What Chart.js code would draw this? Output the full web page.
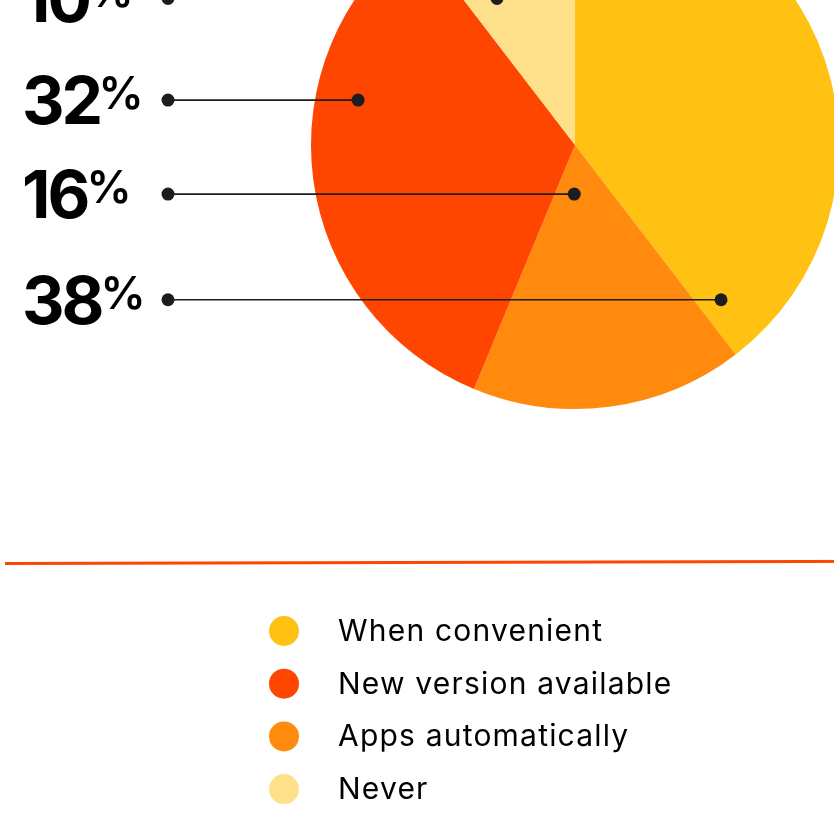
<!DOCTYPE html>
<html>
<head>
<meta charset="utf-8">
<title>App update habits</title>
<script src="https://cdn.jsdelivr.net/npm/chart.js@4.4.1/dist/chart.umd.min.js"></script>
<style>
  html, body { margin: 0; padding: 0; background: #fff; overflow: hidden; }
  body { width: 834px; height: 829px; position: relative; }
  #pie { position: absolute; left: 0; top: -150px; }
</style>
</head>
<body>
<canvas id="pie" width="900" height="979"></canvas>
<script>
// Survey answers, in legend order
const categories = ['When convenient', 'New version available', 'Apps automatically', 'Never'];
const shares = [38, 32, 16, 10];
// slices go clockwise from 12 o'clock in this order
const sliceOrder = [0, 2, 1, 3];
const colors = ['#FFC112', '#FF4600', '#FF8A0E', '#FFE08A'];

// where each callout dot sits inside its slice (fraction of sweep, fraction of radius)
const anchors = [
  { t: 0.959, r: 0.806 },
  { t: 0.66, r: 0.839 },
  { t: 0.64, r: 0.186 },
  { t: 0.253, r: 0.629 }
];

const SHIFT = 150;        // canvas sits this far above the page
const INK = '#1d1d1d';

const calloutPlugin = {
  id: 'callouts',
  afterDatasetsDraw(chart) {
    const ctx = chart.ctx;
    const arcs = chart.getDatasetMeta(0).data;
    ctx.save();
    arcs.forEach((arc, k) => {
      const i = sliceOrder[k];
      const p = arc.getProps(['x', 'y', 'startAngle', 'endAngle', 'outerRadius'], true);
      const a = p.startAngle + anchors[i].t * (p.endAngle - p.startAngle);
      const px = p.x + Math.cos(a) * p.outerRadius * anchors[i].r;
      const py = p.y + Math.sin(a) * p.outerRadius * anchors[i].r;
      const lx = 168;

      // leader line with end dots
      ctx.strokeStyle = INK;
      ctx.lineWidth = 1.6;
      ctx.beginPath();
      ctx.moveTo(lx, py);
      ctx.lineTo(px, py);
      ctx.stroke();
      ctx.fillStyle = INK;
      [lx, px].forEach(cx => {
        ctx.beginPath();
        ctx.arc(cx, py, 6.5, 0, Math.PI * 2);
        ctx.fill();
      });

      // big value, small raised percent sign
      const num = String(shares[i]);
      const base = py + 24;
      ctx.fillStyle = '#000';
      ctx.textBaseline = 'alphabetic';
      ctx.textAlign = 'left';
      ctx.font = '700 66px Inter';
      ctx.letterSpacing = '-3px';
      ctx.fillText(num, 22, base);
      const nm = ctx.measureText(num);
      ctx.letterSpacing = '0px';
      ctx.font = '600 45px Inter';
      const pm = ctx.measureText('%');
      const top = base - 48;
      const inkRight = 22 + nm.actualBoundingBoxRight;
      ctx.fillText('%', inkRight + 3 + pm.actualBoundingBoxLeft, top + pm.actualBoundingBoxAscent);
    });
    ctx.restore();
  },
  afterDraw(chart) {
    const ctx = chart.ctx;
    ctx.save();
    // divider rule
    ctx.strokeStyle = '#FF4600';
    ctx.lineWidth = 3;
    ctx.beginPath();
    ctx.moveTo(5, 563.5 + SHIFT);
    ctx.lineTo(900, 561.3 + SHIFT);
    ctx.stroke();

    // legend
    ctx.font = '400 30px Inter';
    ctx.letterSpacing = '1.2px';
    ctx.textBaseline = 'alphabetic';
    ctx.textAlign = 'left';
    categories.forEach((label, i) => {
      const cy = 631 + SHIFT + i * 52.7;
      ctx.fillStyle = colors[i];
      ctx.beginPath();
      ctx.arc(284, cy, 15, 0, Math.PI * 2);
      ctx.fill();
      ctx.fillStyle = '#000';
      ctx.fillText(label, 338, cy + 10);
    });
    ctx.restore();
  }
};

document.fonts.load('700 66px Inter').then(() => {
  new Chart(document.getElementById('pie'), {
    type: 'pie',
    data: {
      labels: sliceOrder.map(i => categories[i]),
      datasets: [{
        data: sliceOrder.map(i => shares[i]),
        backgroundColor: sliceOrder.map(i => colors[i]),
        borderWidth: 0,
        hoverOffset: 0
      }]
    },
    options: {
      responsive: false,
      animation: false,
      devicePixelRatio: 1,
      layout: { padding: { left: 311, right: 61, top: 31, bottom: 420 } },
      plugins: {
        legend: { display: false },
        tooltip: { enabled: false }
      }
    },
    plugins: [calloutPlugin]
  });
});
</script>
</body>
</html>
